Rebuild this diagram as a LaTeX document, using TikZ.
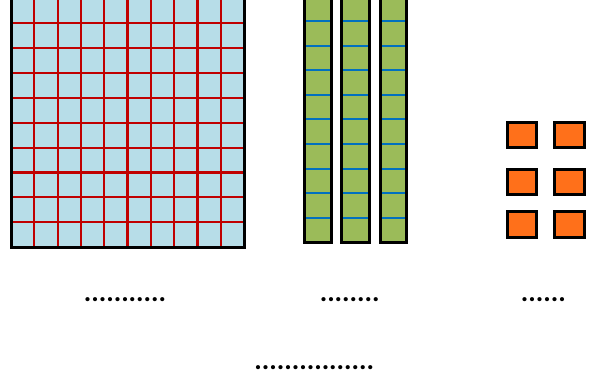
\documentclass[tikz,border=0pt]{standalone}
\usepackage{fontspec}
\newfontfamily\dotfont{Carlito}
\definecolor{gridblue}{RGB}{183,221,232}
\definecolor{gridred}{RGB}{192,0,0}
\definecolor{rodgreen}{RGB}{155,187,89}
\definecolor{rodblue}{RGB}{0,112,192}
\definecolor{unitorange}{RGB}{255,112,26}
\tikzset{
  frame/.style={draw=black,line width=3pt},
  gridline/.style={draw=gridred,line width=2.2pt},
  rodline/.style={draw=rodblue,line width=2pt},
  unitbox/.style={fill=unitorange,draw=black,line width=3pt},
  dotlabel/.style={inner sep=0pt,anchor=base,font=\dotfont\bfseries\fontsize{28}{30}\selectfont}
}
\begin{document}
\begin{tikzpicture}[x=1pt,y=-1pt]
\useasboundingbox (0,0) rectangle (593,380);
\clip (0,0) rectangle (593,380);
% hundreds grid
\fill[gridblue] (11,-1.5) rectangle (244,247);
\foreach \i in {1,...,9} {
  \draw[gridline] ({11+\i*23.3},-1.5) -- ({11+\i*23.3},247);
  \draw[gridline] (11,{247-\i*24.85}) -- (244,{247-\i*24.85});
}
\draw[frame] (11,-1.5) rectangle (244,247);
% ten rods
\foreach \a/\b in {304/331,341.7/369,380/406.7} {
  \fill[rodgreen] (\a,-3.7) rectangle (\b,242.3);
  \foreach \j in {1,...,9} {
    \draw[rodline] (\a,{242.3-\j*24.6}) -- (\b,{242.3-\j*24.6});
  }
  \draw[frame] (\a,-3.7) rectangle (\b,242.3);
}
% units
\foreach \y/\h in {122/147,169.5/194.7,211.3/237} {
  \draw[unitbox] (507,\y) rectangle (536,\h);
  \draw[unitbox] (554.6,\y) rectangle (584,\h);
}
% labels
\node[dotlabel] (l1) at (125,301.5) {...........};
\node[dotlabel] (l2) at (349.7,301.5) {........};
\node[dotlabel] (l3) at (543.4,301.5) {......};
\node[dotlabel] (l4) at (314.3,369.5) {................};
\end{tikzpicture}
\end{document}
